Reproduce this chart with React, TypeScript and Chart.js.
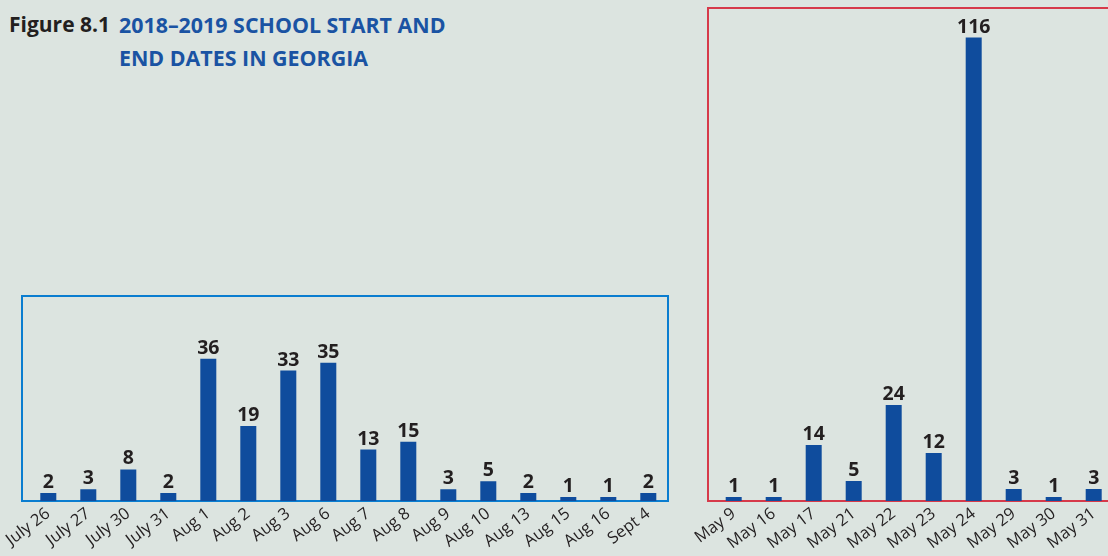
import React, { useEffect, useRef } from "react";
import { Chart, registerables } from "chart.js";

Chart.register(...registerables);

const startDates = [
  "July 26", "July 27", "July 30", "July 31", "Aug 1", "Aug 2", "Aug 3", "Aug 6",
  "Aug 7", "Aug 8", "Aug 9", "Aug 10", "Aug 13", "Aug 15", "Aug 16", "Sept 4",
];
const startCounts = [2, 3, 8, 2, 36, 19, 33, 35, 13, 15, 3, 5, 2, 1, 1, 2];

const endDates = [
  "May 9", "May 16", "May 17", "May 21", "May 22", "May 23", "May 24", "May 29", "May 30", "May 31",
];
const endCounts = [1, 1, 14, 5, 24, 12, 116, 3, 1, 3];

const titleLead = "Figure 8.1";
const titleLines = ["2018–2019 SCHOOL START AND", "END DATES IN GEORGIA"];

const BG = "#dce4e0";
const BAR = "#0f4c9d";
const INK = "#231f20";
const TITLE_BLUE = "#1a53a3";
const FONT = "'Open Sans', 'Noto Sans', sans-serif";

const valueLabels = {
  id: "valueLabels",
  afterDatasetsDraw(chart: any) {
    const ctx = chart.ctx;
    ctx.save();
    ctx.font = `bold 19.5px ${FONT}`;
    ctx.fillStyle = INK;
    ctx.textAlign = "center";
    ctx.textBaseline = "alphabetic";
    chart.data.datasets.forEach((ds: any, i: number) => {
      chart.getDatasetMeta(i).data.forEach((el: any, j: number) => {
        ctx.fillText(String(ds.data[j]), el.x, el.y - 5);
      });
    });
    ctx.restore();
  },
};

type PanelProps = {
  labels: string[];
  values: number[];
  left: number;
  top: number;
  width: number;
  height: number;
  padLeft: number;
  padRight: number;
  padTop: number;
  axisHeight: number;
  yMax: number;
};

function BarPanel(p: PanelProps) {
  const ref = useRef<HTMLCanvasElement>(null);
  useEffect(() => {
    if (!ref.current) return;
    const chart = new Chart(ref.current, {
      type: "bar",
      data: {
        labels: p.labels,
        datasets: [
          {
            data: p.values,
            backgroundColor: BAR,
            borderWidth: 0,
            categoryPercentage: 1,
            barPercentage: 0.4,
          },
        ],
      },
      options: {
        animation: false,
        responsive: false,
        devicePixelRatio: 1,
        layout: { padding: { left: p.padLeft, right: p.padRight, top: p.padTop, bottom: 0 } },
        plugins: { legend: { display: false }, tooltip: { enabled: false } },
        scales: {
          x: {
            grid: { display: false, drawTicks: false },
            border: { display: false },
            ticks: {
              autoSkip: false,
              minRotation: 37,
              maxRotation: 37,
              padding: 3,
              color: INK,
              font: { family: FONT, size: 16.5 },
            },
            afterFit: (s: any) => {
              s.height = p.axisHeight;
            },
          },
          y: { display: false, min: 0, max: p.yMax },
        },
      },
      plugins: [valueLabels],
    } as any);
    return () => chart.destroy();
  }, []);
  return (
    <canvas
      ref={ref}
      width={p.width}
      height={p.height}
      style={{ position: "absolute", left: p.left, top: p.top, width: p.width, height: p.height }}
    />
  );
}

export default function App() {
  return (
    <div
      style={{
        position: "absolute",
        left: 0,
        top: 0,
        width: 1108,
        height: 556,
        overflow: "hidden",
        background: BG,
        fontFamily: FONT,
      }}
    >
      <div
        style={{
          position: "absolute",
          left: 9,
          top: 8,
          fontSize: 21,
          lineHeight: "33px",
          fontWeight: 700,
          color: INK,
          whiteSpace: "nowrap",
        }}
      >
        {titleLead}
      </div>
      <div
        style={{
          position: "absolute",
          left: 119,
          top: 8,
          fontSize: 21.4,
          lineHeight: "33px",
          fontWeight: 700,
          color: TITLE_BLUE,
          whiteSpace: "nowrap",
        }}
      >
        {titleLines.map((t) => (
          <div key={t}>{t}</div>
        ))}
      </div>
      <div
        style={{
          position: "absolute",
          left: 21,
          top: 295,
          width: 648,
          height: 207,
          border: "2px solid #0a7dd0",
          boxSizing: "border-box",
        }}
      />
      <div
        style={{
          position: "absolute",
          left: 707,
          top: 7,
          width: 450,
          height: 495,
          border: "2px solid #d63a4a",
          boxSizing: "border-box",
        }}
      />
      <BarPanel
        labels={startDates}
        values={startCounts}
        left={0}
        top={290}
        width={690}
        height={266}
        padLeft={28.3}
        padRight={21.7}
        padTop={6}
        axisHeight={55}
        yMax={51.86}
      />
      <BarPanel
        labels={endDates}
        values={endCounts}
        left={690}
        top={0}
        width={440}
        height={556}
        padLeft={23.7}
        padRight={16.3}
        padTop={8}
        axisHeight={55}
        yMax={123.4}
      />
    </div>
  );
}
